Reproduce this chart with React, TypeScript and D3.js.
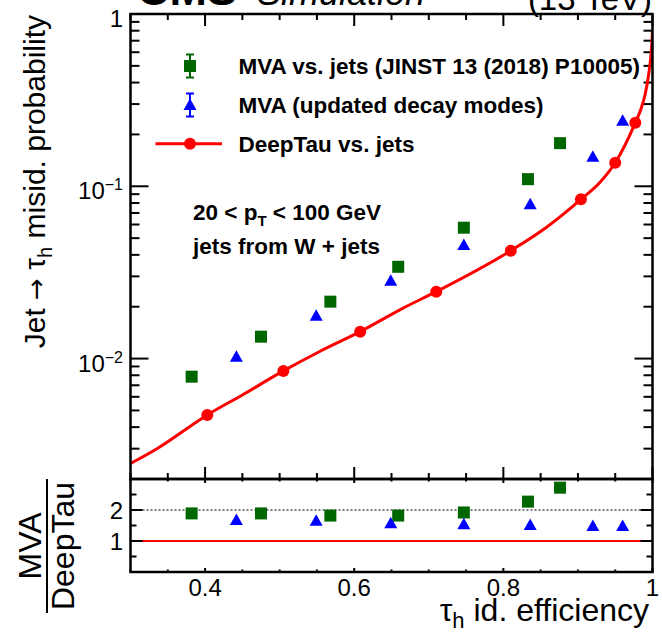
import * as d3 from "d3";

// DeepTau ROC curve (efficiency, misid probability)
const deepTauCurve: [number, number][] = [
  [0.3, 0.00246], [0.336, 0.00301], [0.403, 0.00471], [0.45, 0.00615],
  [0.505, 0.00848], [0.555, 0.01107], [0.608, 0.01433], [0.665, 0.01958],
  [0.71, 0.02445], [0.81, 0.0423], [0.857, 0.0575], [0.904, 0.084],
  [0.93, 0.106], [0.95, 0.137], [0.977, 0.234], [0.985, 0.285],
  [0.99, 0.34], [0.995, 0.45], [0.999, 0.66], [1.0, 0.8],
];
const deepTauPoints: [number, number][] = [
  [0.403, 0.00471], [0.505, 0.00848], [0.608, 0.01433], [0.71, 0.02445],
  [0.81, 0.0423], [0.904, 0.084], [0.95, 0.137], [0.977, 0.234],
];
const mvaOldEff = [0.382, 0.475, 0.568, 0.659, 0.747, 0.833, 0.876];
const mvaOldMisid = [0.00785, 0.0134, 0.0214, 0.0341, 0.0575, 0.110, 0.178];
const mvaOldRatio = [1.89, 1.89, 1.82, 1.82, 1.92, 2.27, 2.72];
const mvaNewEff = [0.442, 0.549, 0.649, 0.747, 0.836, 0.92, 0.96];
const mvaNewMisid = [0.01026, 0.01775, 0.0283, 0.0456, 0.0786, 0.1485, 0.24];
const mvaNewRatio = [1.68, 1.65, 1.57, 1.54, 1.52, 1.48, 1.48];

const xMajor = [0.4, 0.6, 0.8, 1.0];
const xLabels = ["0.4", "0.6", "0.8", "1"];
const ratioMajor = [1, 2];
const legendLabels = [
  "MVA vs. jets (JINST 13 (2018) P10005)",
  "MVA (updated decay modes)",
  "DeepTau vs. jets",
];

const W = 662, H = 642;
const L = 130.5, R = 652.5, T = 14, MID = 479, B = 572;
const font = "'Liberation Sans', Arial, Helvetica, sans-serif";
const green = "#006600", blue = "#0000ff", red = "#ff0000";

const tri = "M0,-6.5L6.5,5L-6.5,5Z";

export default function App() {
  const x = d3.scaleLinear([0.3, 1], [L, R]);
  const y = d3.scaleLog([0.002, 1], [MID, T]);
  const yr = d3.scaleLinear([0, 3], [B, MID]);

  const line = d3
    .line<[number, number]>()
    .x((d) => x(d[0]))
    .y((d) => y(d[1]))
    .curve(d3.curveMonotoneX);

  const xMinor = d3.range(0.3, 1.0001, 0.05).filter((v) => !xMajor.some((m) => Math.abs(m - v) < 1e-6));
  const yMinor: number[] = [];
  for (const dec of [0.001, 0.01, 0.1]) for (let k = 2; k <= 9; k++) if (dec * k >= 0.002 && dec * k < 1) yMinor.push(dec * k);
  const rMinor = [0.5, 1.5, 2.5];

  const legY = [66, 105, 143.7];
  const legX = 190;

  return (
    <svg width={W} height={H} style={{ position: "absolute", left: 0, top: 0, background: "#fff" }} fontFamily={font}>
      <defs>
        <clipPath id="upper">
          <rect x={L} y={T} width={R - L} height={MID - T} />
        </clipPath>
      </defs>
      <rect width={W} height={H} fill="#fff" />

      {/* header */}
      <text x={137} y={5} fontSize={45} fontWeight="bold">CMS</text>
      <text x={257} y={5} fontSize={36} fontStyle="italic">Simulation</text>
      <text x={652} y={10} fontSize={33} textAnchor="end">(13 TeV)</text>

      {/* upper panel ticks */}
      <g stroke="#000" strokeWidth={2}>
        {xMajor.map((v) => (
          <g key={"xm" + v}>
            <line x1={x(v)} x2={x(v)} y1={T} y2={T + 12} />
            <line x1={x(v)} x2={x(v)} y1={MID} y2={MID - 12} />
          </g>
        ))}
        {xMinor.map((v) => (
          <g key={"xn" + v}>
            <line x1={x(v)} x2={x(v)} y1={T} y2={T + 6} />
            <line x1={x(v)} x2={x(v)} y1={MID} y2={MID - 6} />
          </g>
        ))}
        {[0.01, 0.1].map((v) => (
          <g key={"ym" + v}>
            <line x1={L} x2={L + 18} y1={y(v)} y2={y(v)} />
            <line x1={R} x2={R - 18} y1={y(v)} y2={y(v)} />
          </g>
        ))}
        {yMinor.map((v) => (
          <g key={"yn" + v}>
            <line x1={L} x2={L + 9} y1={y(v)} y2={y(v)} />
            <line x1={R} x2={R - 9} y1={y(v)} y2={y(v)} />
          </g>
        ))}
      </g>

      {/* upper y labels */}
      <g fontSize={24} textAnchor="end">
        <text x={123} y={y(1) + 13}>1</text>
        {[-1, -2].map((e) => (
          <text key={e} x={123} y={y(Math.pow(10, e)) + 13}>
            10<tspan fontSize={16} dy={-9}>{"\u2212" + Math.abs(e)}</tspan>
          </text>
        ))}
      </g>

      {/* DeepTau curve */}
      <g clipPath="url(#upper)">
        <path d={line(deepTauCurve) ?? ""} fill="none" stroke={red} strokeWidth={3} />
      </g>
      {deepTauPoints.map((d, i) => (
        <circle key={"dt" + i} cx={x(d[0])} cy={y(d[1])} r={6} fill={red} />
      ))}
      {mvaOldEff.map((e, i) => (
        <rect key={"g" + i} x={x(e) - 6} y={y(mvaOldMisid[i]) - 6} width={12} height={12} fill={green} />
      ))}
      {mvaNewEff.map((e, i) => (
        <path key={"b" + i} d={tri} transform={`translate(${x(e)},${y(mvaNewMisid[i])})`} fill={blue} />
      ))}

      {/* legend */}
      <g>
        <g stroke={green} strokeWidth={2}>
          <line x1={legX} x2={legX} y1={legY[0] - 11.5} y2={legY[0] + 11.5} />
          <line x1={legX - 4} x2={legX + 4} y1={legY[0] - 11.5} y2={legY[0] - 11.5} />
          <line x1={legX - 4} x2={legX + 4} y1={legY[0] + 11.5} y2={legY[0] + 11.5} />
        </g>
        <rect x={legX - 6} y={legY[0] - 6} width={12} height={12} fill={green} />
        <g stroke={blue} strokeWidth={2}>
          <line x1={legX} x2={legX} y1={legY[1] - 11.5} y2={legY[1] + 11.5} />
          <line x1={legX - 4} x2={legX + 4} y1={legY[1] - 11.5} y2={legY[1] - 11.5} />
          <line x1={legX - 4} x2={legX + 4} y1={legY[1] + 11.5} y2={legY[1] + 11.5} />
        </g>
        <path d={tri} transform={`translate(${legX},${legY[1]})`} fill={blue} />
        <line x1={155.5} x2={222} y1={legY[2]} y2={legY[2]} stroke={red} strokeWidth={3} />
        <circle cx={legX} cy={legY[2]} r={6} fill={red} />
        {legendLabels.map((t, i) => (
          <text key={t} x={238.5} y={legY[i] + 8} fontSize={22.5} fontWeight="bold">{t}</text>
        ))}
      </g>

      {/* selection text */}
      <g fontSize={22.5} fontWeight="bold">
        <text x={193} y={220}>
          20 {"<"} p<tspan fontSize={15} dy={6}>T</tspan><tspan dy={-6}> {"<"} 100 GeV</tspan>
        </text>
        <text x={193} y={254}>jets from W + jets</text>
      </g>

      {/* y title */}
      <text transform={`translate(45,${T + 1}) rotate(-90)`} textAnchor="end" fontSize={30}>
        Jet <tspan fontFamily="'DejaVu Sans', sans-serif" fontSize={26}>{"\u2192"}</tspan> {"\u03c4"}<tspan fontSize={20} dy={7}>h</tspan><tspan dy={-7}> misid. probability</tspan>
      </text>

      {/* ratio panel */}
      <line x1={L} x2={R} y1={yr(2)} y2={yr(2)} stroke="#000" strokeWidth={1} strokeDasharray="2,2" />
      <line x1={L} x2={R} y1={yr(1)} y2={yr(1)} stroke={red} strokeWidth={2} />
      <g stroke="#000" strokeWidth={2}>
        {xMajor.map((v) => (
          <g key={"rxm" + v}>
            <line x1={x(v)} x2={x(v)} y1={MID} y2={MID + 4} />
            <line x1={x(v)} x2={x(v)} y1={B} y2={B - 4} />
          </g>
        ))}
        {xMinor.map((v) => (
          <g key={"rxn" + v}>
            <line x1={x(v)} x2={x(v)} y1={MID} y2={MID + 2.5} />
            <line x1={x(v)} x2={x(v)} y1={B} y2={B - 2.5} />
          </g>
        ))}
        {ratioMajor.map((v) => (
          <g key={"rym" + v}>
            <line x1={L} x2={L + 12} y1={yr(v)} y2={yr(v)} />
            <line x1={R} x2={R - 12} y1={yr(v)} y2={yr(v)} />
          </g>
        ))}
        {rMinor.map((v) => (
          <g key={"ryn" + v}>
            <line x1={L} x2={L + 6} y1={yr(v)} y2={yr(v)} />
            <line x1={R} x2={R - 6} y1={yr(v)} y2={yr(v)} />
          </g>
        ))}
      </g>
      {mvaOldEff.map((e, i) => (
        <rect key={"rg" + i} x={x(e) - 6} y={yr(mvaOldRatio[i]) - 6} width={12} height={12} fill={green} />
      ))}
      {mvaNewEff.map((e, i) => (
        <path key={"rb" + i} d={tri} transform={`translate(${x(e)},${yr(mvaNewRatio[i])})`} fill={blue} />
      ))}
      <g fontSize={24} textAnchor="end">
        {ratioMajor.map((v) => (
          <text key={v} x={123} y={yr(v) + 8.5}>{v}</text>
        ))}
      </g>
      <g fontSize={24} textAnchor="middle">
        {xMajor.map((v, i) => (
          <text key={v} x={x(v)} y={596}>{xLabels[i]}</text>
        ))}
      </g>

      {/* frames */}
      <rect x={L} y={T} width={R - L} height={MID - T} fill="none" stroke="#000" strokeWidth={2.5} />
      <rect x={L} y={MID} width={R - L} height={B - MID} fill="none" stroke="#000" strokeWidth={2.5} />

      {/* ratio title */}
      <g transform="translate(0,546) rotate(-90)" fontSize={32} textAnchor="middle">
        <text x={0} y={41}>MVA</text>
        <line x1={-67} x2={67} y1={47} y2={47} stroke="#000" strokeWidth={2} />
        <text x={0} y={74}>DeepTau</text>
      </g>

      {/* x title */}
      <text x={649} y={621} fontSize={32} textAnchor="end">
        {"\u03c4"}<tspan fontSize={22} dy={7}>h</tspan><tspan dy={-7}> id. efficiency</tspan>
      </text>
    </svg>
  );
}
